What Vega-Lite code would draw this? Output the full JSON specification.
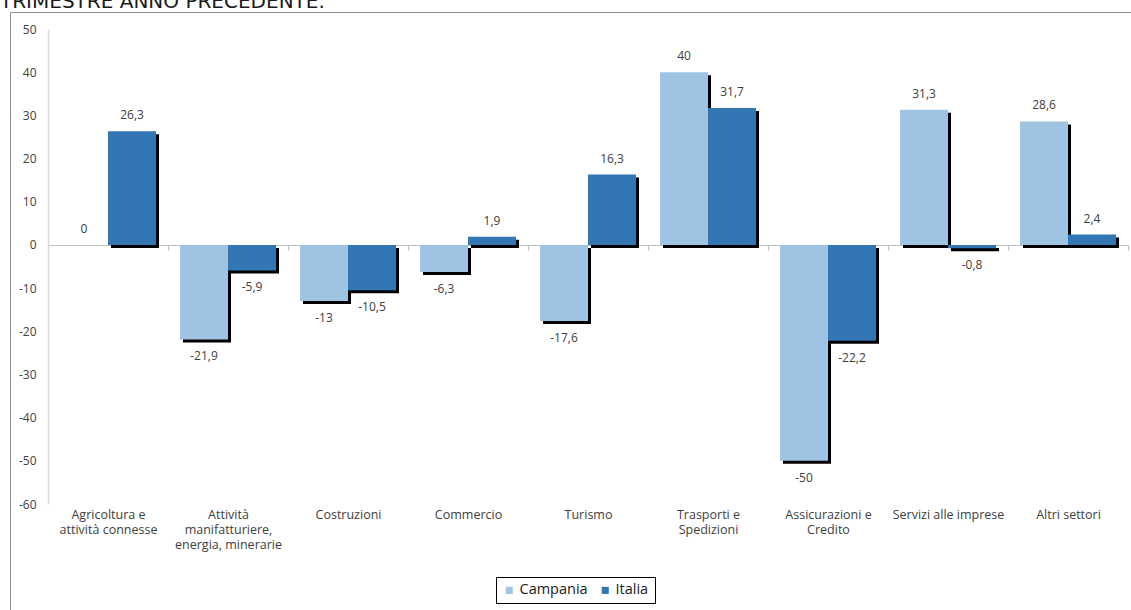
{
  "$schema": "https://vega.github.io/schema/vega-lite/v6.json",
  "width": 1125,
  "height": 602,
  "autosize": {"type": "none"},
  "padding": {"left": 10, "top": 12, "right": 0, "bottom": 0},
  "background": "white",
  "title": {"text": "TRIMESTRE ANNO PRECEDENTE.", "anchor": "start", "frame": "group", "dx": -10, "offset": 0, "fontSize": 20, "font": "DejaVu Sans", "fontWeight": "normal", "color": "#1a1a1a"},
  "config": {
    "view": {"stroke": "#8c8c8c", "strokeWidth": 1},
    "font": "Open Sans",
    "locale": {"number": {"decimal": ",", "thousands": ".", "grouping": [3], "currency": ["€", ""], "minus": "-"}}
  },
  "data": {"values": [
    {"settore": "Agricoltura e|attività connesse", "area": "Campania", "valore": 0},
    {"settore": "Agricoltura e|attività connesse", "area": "Italia", "valore": 26.3},
    {"settore": "Attività|manifatturiere,|energia, minerarie", "area": "Campania", "valore": -21.9},
    {"settore": "Attività|manifatturiere,|energia, minerarie", "area": "Italia", "valore": -5.9},
    {"settore": "Costruzioni", "area": "Campania", "valore": -13},
    {"settore": "Costruzioni", "area": "Italia", "valore": -10.5},
    {"settore": "Commercio", "area": "Campania", "valore": -6.3},
    {"settore": "Commercio", "area": "Italia", "valore": 1.9},
    {"settore": "Turismo", "area": "Campania", "valore": -17.6},
    {"settore": "Turismo", "area": "Italia", "valore": 16.3},
    {"settore": "Trasporti e|Spedizioni", "area": "Campania", "valore": 40},
    {"settore": "Trasporti e|Spedizioni", "area": "Italia", "valore": 31.7},
    {"settore": "Assicurazioni e|Credito", "area": "Campania", "valore": -50},
    {"settore": "Assicurazioni e|Credito", "area": "Italia", "valore": -22.2},
    {"settore": "Servizi alle imprese", "area": "Campania", "valore": 31.3},
    {"settore": "Servizi alle imprese", "area": "Italia", "valore": -0.8},
    {"settore": "Altri settori", "area": "Campania", "valore": 28.6},
    {"settore": "Altri settori", "area": "Italia", "valore": 2.4}
  ]},
  "encoding": {
    "x": {
      "field": "settore", "type": "nominal", "sort": null,
      "scale": {"range": [38, 1118], "paddingInner": 0, "paddingOuter": 0},
      "axis": {
        "title": null, "orient": "bottom", "offset": -369,
        "domain": true, "domainColor": "#bfbfbf", "domainWidth": 1,
        "ticks": true, "tickColor": "#bfbfbf", "tickSize": 5, "tickBand": "extent",
        "labelPadding": 258, "labelAngle": 0,
        "labelExpr": "split(datum.label, '|')",
        "labelFontSize": 12.5, "labelColor": "#404040", "labelLineHeight": 15,
        "labelFont": "Open Sans", "labelLimit": 200
      }
    },
    "y": {
      "field": "valore", "type": "quantitative",
      "scale": {"domain": [-60, 50], "range": [492, 17], "nice": false},
      "axis": {
        "title": null, "offset": -38, "domain": true, "domainColor": "#d9d9d9", "domainWidth": 1.5,
        "ticks": false, "grid": false,
        "values": [-60, -50, -40, -30, -20, -10, 0, 10, 20, 30, 40, 50],
        "format": "d", "labelPadding": 12, "labelFontSize": 12, "labelColor": "#404040", "labelFont": "Open Sans"
      }
    }
  },
  "resolve": {"scale": {"xOffset": "independent"}},
  "layer": [
    {
      "mark": {"type": "bar", "color": "#000000", "yOffset": 3},
      "encoding": {
        "xOffset": {"field": "area", "type": "nominal", "sort": ["Campania", "Italia"], "scale": {"range": [3, 123], "paddingOuter": 0.25, "paddingInner": 0}}
      }
    },
    {
      "mark": {"type": "bar"},
      "encoding": {
        "xOffset": {"field": "area", "type": "nominal", "sort": ["Campania", "Italia"], "scale": {"paddingOuter": 0.25, "paddingInner": 0}},
        "color": {
          "field": "area", "type": "nominal",
          "scale": {"domain": ["Campania", "Italia"], "range": ["#9fc3e3", "#3276b3"]},
          "legend": {
            "title": null, "orient": "none", "legendX": 486, "legendY": 565,
            "direction": "horizontal", "strokeColor": "#000000", "padding": 6,
            "symbolType": "square", "symbolSize": 50, "symbolStrokeWidth": 0,
            "labelFontSize": 14.5, "labelColor": "#1a1a1a", "labelFont": "Open Sans",
            "columnPadding": 10, "labelOffset": 3
          }
        }
      }
    },
    {
      "transform": [{"filter": "datum.valore >= 0"}],
      "mark": {"type": "text", "dy": -16, "baseline": "middle", "fontSize": 12, "color": "#404040", "font": "Open Sans"},
      "encoding": {
        "xOffset": {"field": "area", "type": "nominal", "sort": ["Campania", "Italia"], "scale": {"type": "point", "padding": 0.75}},
        "text": {"field": "valore", "type": "quantitative", "format": ".1~f"}
      }
    },
    {
      "transform": [{"filter": "datum.valore < 0"}],
      "mark": {"type": "text", "dy": 17, "baseline": "middle", "fontSize": 12, "color": "#404040", "font": "Open Sans"},
      "encoding": {
        "xOffset": {"field": "area", "type": "nominal", "sort": ["Campania", "Italia"], "scale": {"type": "point", "padding": 0.75}},
        "text": {"field": "valore", "type": "quantitative", "format": ".1~f"}
      }
    }
  ]
}
